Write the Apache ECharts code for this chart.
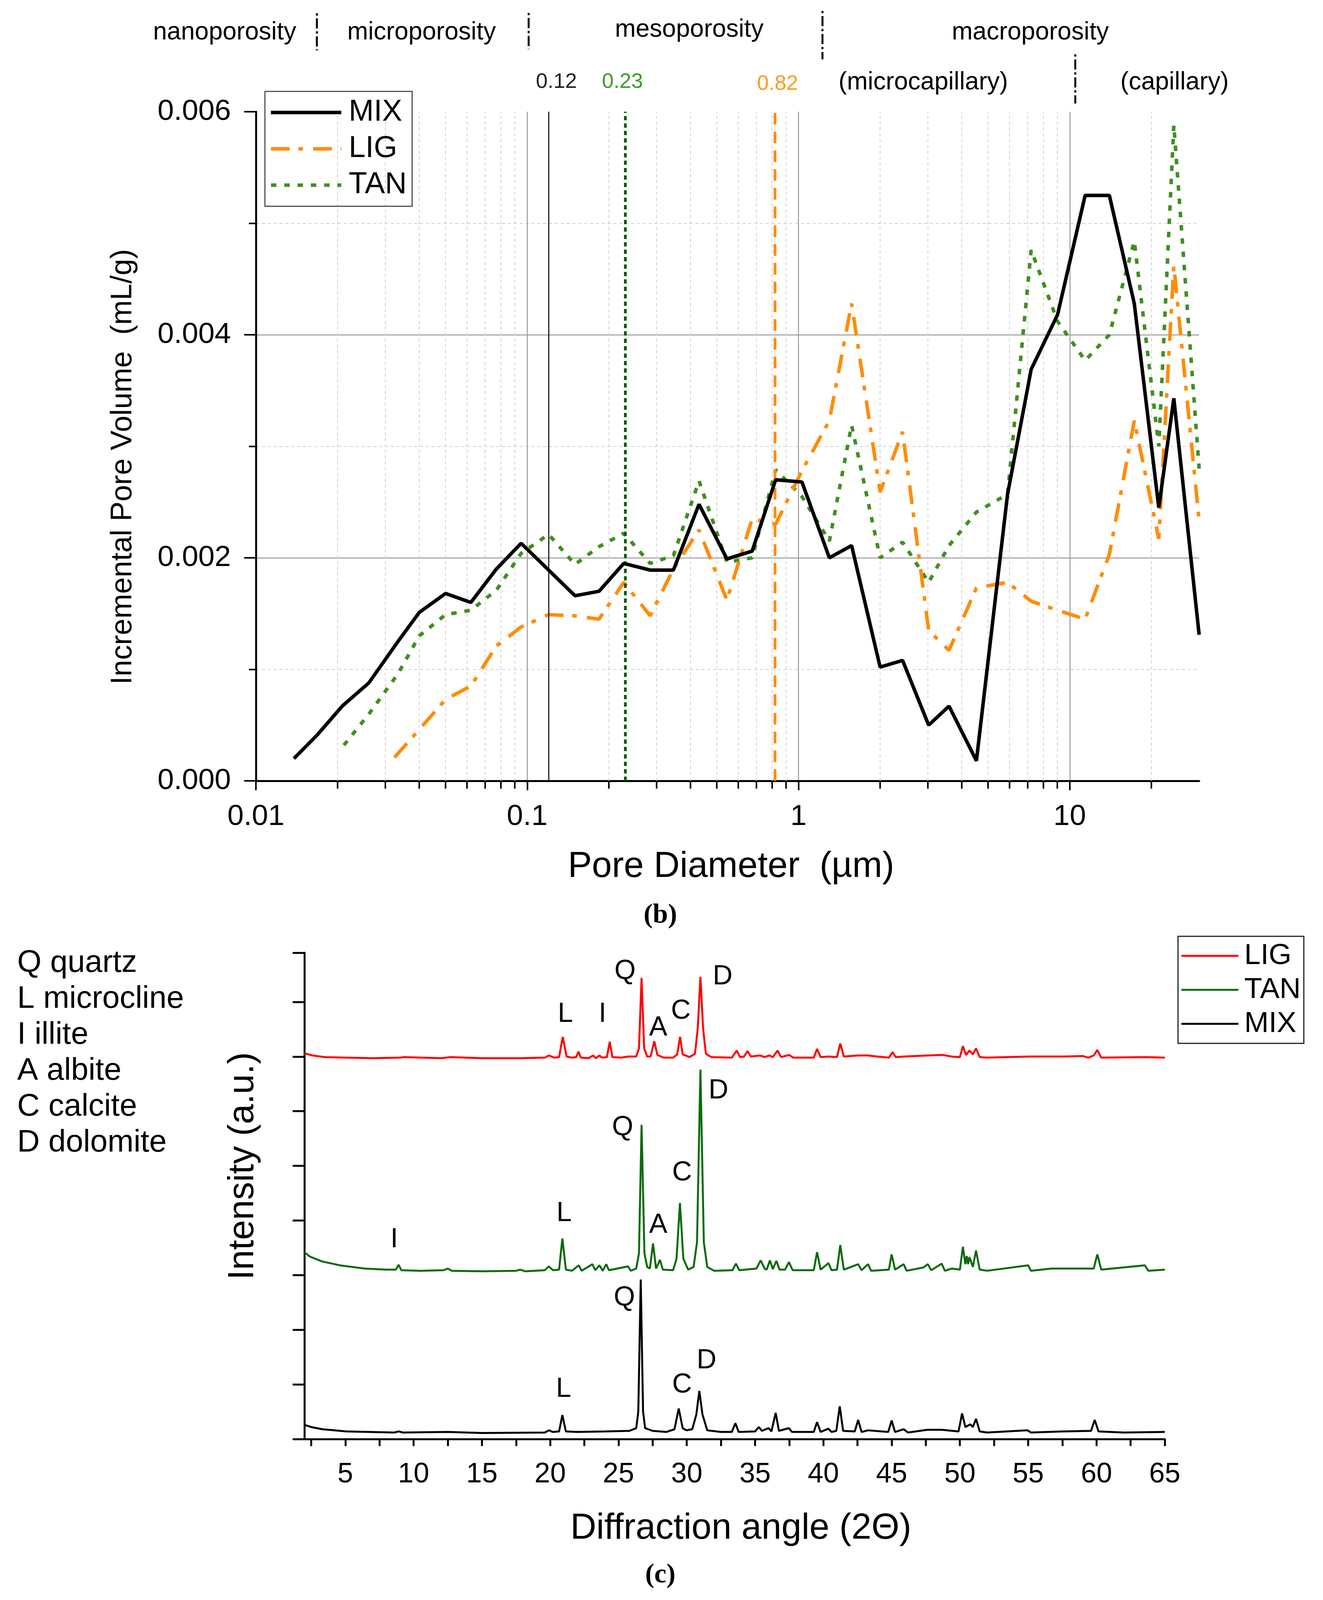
<!DOCTYPE html>
<html>
<head>
<meta charset="utf-8">
<script src="https://cdn.jsdelivr.net/npm/echarts@6/dist/echarts.min.js"></script>
<style>
html, body { margin: 0; padding: 0; background: #fff; overflow: hidden; }
#pore, #xrd { position: absolute; left: 0; width: 3386px; }
</style>
</head>
<body>
<div id="pore"></div>
<div id="xrd"></div>
<script>
const FONT = '"Liberation Sans", Arial, sans-serif';

// ---- (b) pore size distribution ----
const MIX_D = [0.0138, 0.0168, 0.0208, 0.0261, 0.0334, 0.040, 0.050, 0.062, 0.077, 0.095, 0.120, 0.150, 0.184, 0.227, 0.284, 0.346, 0.430, 0.545, 0.675, 0.824, 1.03, 1.30, 1.57, 2.00, 2.42, 3.02, 3.59, 4.53, 5.9, 7.21, 9.02, 11.4, 14.0, 17.3, 21.3, 24.2, 30];
const MIX_V = [0.00020, 0.00041, 0.00067, 0.00088, 0.00125, 0.00151, 0.00168, 0.00160, 0.00190, 0.00213, 0.00189, 0.00166, 0.00170, 0.00195, 0.00189, 0.00189, 0.00248, 0.00199, 0.00206, 0.00270, 0.00268, 0.00200, 0.00211, 0.00102, 0.00108, 0.00050, 0.00067, 0.00018, 0.00257, 0.00369, 0.00418, 0.00525, 0.00525, 0.00428, 0.00245, 0.00343, 0.00131];
const LIG_D = [0.0324, 0.040, 0.050, 0.062, 0.077, 0.095, 0.120, 0.150, 0.184, 0.227, 0.284, 0.346, 0.430, 0.545, 0.675, 0.824, 1.03, 1.30, 1.57, 2.00, 2.42, 3.02, 3.59, 4.53, 5.9, 7.21, 9.02, 11.4, 14.0, 17.3, 21.3, 24.2, 30];
const LIG_V = [0.00021, 0.00046, 0.00073, 0.00085, 0.00121, 0.00138, 0.00149, 0.00148, 0.00145, 0.00178, 0.00148, 0.00190, 0.00225, 0.00162, 0.00235, 0.00230, 0.00278, 0.00323, 0.00428, 0.00259, 0.00313, 0.00135, 0.00117, 0.00173, 0.00178, 0.00161, 0.00153, 0.00145, 0.00203, 0.00323, 0.00217, 0.00462, 0.00233];
const TAN_D = [0.0211, 0.0261, 0.0334, 0.040, 0.050, 0.062, 0.077, 0.095, 0.120, 0.150, 0.184, 0.227, 0.284, 0.346, 0.430, 0.545, 0.675, 0.824, 1.03, 1.30, 1.57, 2.00, 2.42, 3.02, 3.59, 4.53, 5.9, 7.21, 9.02, 11.4, 14.0, 17.3, 21.3, 24.2, 30];
const TAN_V = [0.00032, 0.00060, 0.00096, 0.00130, 0.00149, 0.00153, 0.00171, 0.00204, 0.00221, 0.00194, 0.00210, 0.00222, 0.00195, 0.00202, 0.00269, 0.00196, 0.00200, 0.00279, 0.00255, 0.00215, 0.00319, 0.00200, 0.00214, 0.00178, 0.00211, 0.00241, 0.00257, 0.00476, 0.00412, 0.00377, 0.00400, 0.00484, 0.00300, 0.00588, 0.00280];
const MINOR_X = [0.02, 0.03, 0.04, 0.05, 0.06, 0.07, 0.08, 0.09, 0.2, 0.3, 0.4, 0.5, 0.6, 0.7, 0.8, 0.9, 2, 3, 4, 5, 6, 7, 8, 9, 20];
const MEDIANS = { MIX: 0.12, TAN: 0.23, LIG: 0.82 };

// ---- (c) XRD patterns, [2theta, intensity a.u.] ----
const LIG_XRD = [[2.0,7.06],[2.6,7.02],[3.5,6.99],[5,6.98],[7,6.97],[9,6.98],[9.3,6.99],[12,6.97],[12.7,6.99],[15,6.97],[17.8,6.97],[19.6,6.98],[19.9,7.02],[20.3,6.98],[20.65,6.99],[20.92,7.36],[21.2,7.0],[21.6,6.98],[21.9,6.99],[22.07,7.09],[22.25,6.98],[22.8,6.97],[23.15,7.02],[23.35,6.97],[23.6,7.02],[23.8,6.98],[24.15,6.99],[24.36,7.27],[24.55,6.99],[25.2,6.98],[25.7,7.0],[26.3,7.0],[26.5,7.15],[26.69,8.44],[26.88,7.15],[27.1,7.0],[27.35,7.0],[27.62,7.28],[27.85,7.03],[28.3,6.98],[29.0,6.98],[29.3,7.04],[29.51,7.36],[29.7,7.04],[30.2,6.99],[30.6,7.05],[30.8,7.5],[31.0,8.46],[31.2,7.5],[31.4,7.05],[31.8,6.99],[33.3,6.98],[33.66,7.11],[33.9,6.99],[34.2,7.0],[34.45,7.10],[34.7,7.0],[35.35,7.02],[35.7,6.99],[36.05,7.02],[36.3,6.99],[36.65,7.11],[36.9,6.99],[37.5,7.03],[37.8,6.98],[39.3,6.98],[39.54,7.14],[39.8,6.99],[40.37,7.0],[41.0,6.99],[41.24,7.24],[41.5,7.0],[42.55,7.02],[43.27,7.02],[43.94,7.0],[44.8,6.98],[45.07,7.08],[45.3,6.99],[45.88,7.0],[47.65,7.02],[48.73,7.03],[49.39,7.0],[50.0,6.99],[50.22,7.19],[50.45,7.03],[50.7,7.11],[50.95,7.04],[51.18,7.15],[51.45,6.99],[52,6.98],[55.04,7.0],[57.55,7.0],[59.0,7.01],[59.4,6.98],[59.8,7.02],[60.06,7.12],[60.35,6.98],[63.6,6.99],[65,6.98]];
const TAN_XRD = [[2.0,3.42],[2.4,3.34],[3.3,3.25],[4.6,3.18],[6.4,3.12],[8.0,3.1],[8.7,3.1],[8.9,3.19],[9.1,3.09],[10.5,3.08],[12.2,3.09],[12.5,3.12],[12.8,3.08],[15,3.07],[17.5,3.08],[17.8,3.1],[18.2,3.07],[19.6,3.09],[19.9,3.16],[20.2,3.09],[20.65,3.1],[20.89,3.67],[21.15,3.1],[21.6,3.08],[22.09,3.18],[22.3,3.08],[23.09,3.2],[23.3,3.09],[23.6,3.18],[23.85,3.08],[24.1,3.2],[24.3,3.09],[25.7,3.16],[25.9,3.08],[26.3,3.12],[26.5,3.4],[26.69,5.75],[26.9,3.4],[27.1,3.15],[27.3,3.12],[27.53,3.58],[27.75,3.12],[28.04,3.28],[28.25,3.1],[29.0,3.09],[29.25,3.3],[29.5,4.32],[29.75,3.3],[30.1,3.1],[30.5,3.15],[30.75,3.6],[31.0,6.76],[31.25,3.6],[31.5,3.15],[32.0,3.08],[33.35,3.09],[33.6,3.21],[33.85,3.09],[35.1,3.12],[35.41,3.27],[35.7,3.12],[35.85,3.1],[36.09,3.27],[36.3,3.11],[36.56,3.26],[36.8,3.1],[37.2,3.1],[37.48,3.24],[37.75,3.09],[39.3,3.09],[39.54,3.42],[39.8,3.1],[40.37,3.22],[40.6,3.09],[41.0,3.1],[41.24,3.55],[41.5,3.1],[42.55,3.2],[42.8,3.09],[43.27,3.2],[43.5,3.08],[44.8,3.1],[45.0,3.38],[45.25,3.1],[45.88,3.2],[46.1,3.08],[47.33,3.14],[47.65,3.2],[47.9,3.09],[48.67,3.21],[48.9,3.08],[49.39,3.12],[50.0,3.1],[50.22,3.52],[50.4,3.2],[50.5,3.35],[50.6,3.2],[50.7,3.33],[50.95,3.15],[51.18,3.45],[51.45,3.1],[52.0,3.08],[55.0,3.18],[55.2,3.08],[56.69,3.12],[57.55,3.12],[58.96,3.12],[59.8,3.12],[60.06,3.38],[60.35,3.1],[63.54,3.18],[63.8,3.08],[65,3.1]];
const MIX_XRD = [[2.0,0.26],[2.5,0.22],[3.3,0.18],[5.1,0.14],[8.6,0.12],[8.9,0.14],[9.2,0.12],[12.5,0.13],[15,0.11],[19.6,0.12],[19.9,0.16],[20.2,0.13],[20.65,0.14],[20.89,0.44],[21.15,0.14],[22,0.13],[24,0.14],[25.8,0.15],[26.3,0.2],[26.45,0.5],[26.63,2.92],[26.8,0.5],[26.95,0.2],[27.5,0.15],[28.5,0.13],[29.1,0.18],[29.41,0.56],[29.7,0.2],[29.98,0.16],[30.4,0.18],[30.7,0.45],[30.92,0.88],[31.15,0.45],[31.5,0.16],[32.5,0.13],[33.3,0.13],[33.56,0.29],[33.8,0.13],[35.0,0.14],[35.28,0.22],[35.5,0.15],[35.99,0.2],[36.2,0.14],[36.51,0.48],[36.75,0.15],[37.48,0.2],[37.7,0.13],[39.3,0.13],[39.54,0.31],[39.8,0.13],[40.37,0.19],[40.6,0.13],[40.95,0.15],[41.2,0.6],[41.45,0.15],[42.3,0.14],[42.55,0.35],[42.8,0.13],[43.27,0.16],[44.75,0.13],[45.0,0.34],[45.25,0.13],[45.88,0.18],[46.2,0.12],[47.61,0.17],[48.67,0.17],[49.9,0.14],[50.16,0.47],[50.4,0.22],[50.76,0.27],[50.95,0.22],[51.18,0.37],[51.45,0.14],[52,0.12],[54.95,0.16],[55.2,0.12],[57.5,0.14],[59.6,0.15],[59.87,0.35],[60.15,0.14],[62,0.12],[65,0.13]];
const LIG_PEAKS = [['L', 21.11, 7.77], ['I', 23.83, 7.77], ['Q', 25.48, 8.56], ['A', 27.91, 7.52], ['C', 29.57, 7.83], ['D', 32.63, 8.46]];
const TAN_PEAKS = [['D', 32.32, 6.37], ['Q', 25.30, 5.70], ['C', 29.65, 4.87], ['L', 21.02, 4.13], ['A', 27.91, 3.91], ['I', 8.58, 3.65]];
const MIX_PEAKS = [['Q', 25.43, 2.58], ['D', 31.45, 1.43], ['C', 29.65, 0.99], ['L', 20.98, 0.91]];
const ANGLE_LABELS = [5, 10, 15, 20, 25, 30, 35, 40, 45, 50, 55, 60, 65];
const ANGLE_TICKS = [2.5, 5, 7.5, 10, 12.5, 15, 17.5, 20, 22.5, 25, 27.5, 30, 32.5, 35, 37.5, 40, 42.5, 45, 47.5, 50, 52.5, 55, 57.5, 60, 62.5, 65];
const MINERALS = ['Q quartz', 'L microcline', 'I illite', 'A albite', 'C calcite', 'D dolomite'];

// the figure is laid out on a 3386 x 4319 page; squeeze it vertically if the viewport is shorter
const PAGE_H = 4319;
const K = Math.min(1, (window.innerHeight || PAGE_H) / PAGE_H);
const Y = v => Math.round(v * K);
const SPLIT = 2520;

const zip = (xs, ys) => xs.map((x, i) => [x, ys[i]]);

function txt(text, x, y, size, extra) {
  return Object.assign({
    type: 'text', x: x, y: Y(y),
    style: Object.assign({ text: text, fontSize: size, fontFamily: FONT, fill: '#000', align: 'center', verticalAlign: 'middle' },
      (extra && extra.style) || {})
  }, extra && extra.rotation ? { rotation: extra.rotation } : {});
}
function sep(x, y1, y2) {
  return { type: 'line', shape: { x1: x, y1: Y(y1), x2: x, y2: Y(y2) },
    style: { stroke: '#000', lineWidth: 5, lineDash: [6, 7, 26, 7] } };
}
function vline(x, color, type, width) {
  return { silent: true, symbol: ['none', 'none'], animation: false,
    label: { show: false },
    lineStyle: { color: color, type: type, width: width },
    data: [{ xAxis: x }] };
}

const poreDiv = document.getElementById('pore');
poreDiv.style.top = '0px';
poreDiv.style.height = Y(SPLIT) + 'px';
const xrdDiv = document.getElementById('xrd');
xrdDiv.style.top = Y(SPLIT) + 'px';
xrdDiv.style.height = (Math.floor(PAGE_H * K) - Y(SPLIT)) + 'px';

const pore = echarts.init(poreDiv);
pore.setOption({
  animation: false,
  backgroundColor: '#fff',
  grid: { left: 655, right: 317, top: Y(302), bottom: Y(SPLIT) - Y(2108) },
  legend: {
    left: 678, top: Y(247), orient: 'vertical',
    data: ['MIX', 'LIG', 'TAN'],
    padding: [Y(15), 14, Y(15), 11],
    itemWidth: 180, itemHeight: 20, itemGap: Math.round(98 * K - 80),
    borderColor: '#333', borderWidth: 2.5,
    itemStyle: { opacity: 0 },
    lineStyle: { width: 9 },
    textStyle: { fontSize: 77, fontFamily: FONT, color: '#000', lineHeight: 80, padding: [0, 0, 0, 14] }
  },
  xAxis: {
    type: 'log', logBase: 10, min: 0.01, max: 30,
    axisLine: { lineStyle: { color: '#000', width: 5 } },
    axisTick: { inside: false, length: 24, lineStyle: { width: 4, color: '#000' } },
    axisLabel: { fontSize: 75, fontFamily: FONT, color: '#000', margin: Y(58), showMaxLabel: false },
    splitLine: { show: true, showMinLine: false, showMaxLine: false, lineStyle: { color: '#9a9a9a', width: 2.5 } }
  },
  yAxis: {
    type: 'value', min: 0, max: 0.006, interval: 0.002,
    axisLine: { show: true, lineStyle: { color: '#000', width: 5 } },
    axisTick: { show: true, inside: false, length: 30, lineStyle: { width: 4, color: '#000' } },
    minorTick: { show: true, splitNumber: 2, length: 18, lineStyle: { width: 4, color: '#000' } },
    axisLabel: { fontSize: 75, fontFamily: FONT, color: '#000', margin: 64,
      formatter: v => v.toFixed(3) },
    splitLine: { show: true, showMaxLine: false, lineStyle: { color: '#9a9a9a', width: 2.5 } },
    minorSplitLine: { show: true, lineStyle: { color: '#cfcfcf', width: 2, type: [8, 7] } }
  },
  series: [
    {
      type: 'custom', z: 1, silent: true, clip: false,
      data: MINOR_X.map(v => [v, 0]),
      encode: { x: 0, y: 1 },
      renderItem: (params, api) => {
        const v = api.value(0);
        const b = api.coord([v, 0]);
        const t = api.coord([v, 0.006]);
        return { type: 'group', children: [
          { type: 'line', shape: { x1: b[0], y1: b[1], x2: t[0], y2: t[1] },
            style: { stroke: '#cfcfcf', lineWidth: 2, lineDash: [8, 7] } },
          { type: 'line', shape: { x1: b[0], y1: b[1], x2: b[0], y2: b[1] + 20 },
            style: { stroke: '#000', lineWidth: 4 } }
        ] };
      }
    },
    {
      name: 'MIX', type: 'line', z: 5, symbol: 'none', data: zip(MIX_D, MIX_V),
      lineStyle: { color: '#000', width: 9 }, itemStyle: { color: '#000' },
      markLine: vline(MEDIANS.MIX, '#222', 'solid', 3)
    },
    {
      name: 'LIG', type: 'line', z: 4, symbol: 'none', data: zip(LIG_D, LIG_V),
      lineStyle: { color: '#ff8c0a', width: 9, type: [48, 22, 12, 26] }, itemStyle: { color: '#ff8c0a' },
      markLine: vline(MEDIANS.LIG, '#ff8c0a', [30, 18], 7)
    },
    {
      name: 'TAN', type: 'line', z: 3, symbol: 'none', data: zip(TAN_D, TAN_V),
      lineStyle: { color: '#3f8f22', width: 9, type: [14, 20] }, itemStyle: { color: '#3f8f22' },
      markLine: vline(MEDIANS.TAN, '#0a5c0a', [11, 8], 7)
    }
  ],
  graphic: [
    txt('nanoporosity', 575, 88, 64),
    txt('microporosity', 1079, 88, 64),
    txt('mesoporosity', 1764, 80, 64),
    txt('macroporosity', 2637, 88, 64),
    txt('(microcapillary)', 2363, 223, 64),
    txt('(capillary)', 3006, 223, 64),
    sep(811, 36, 136), sep(1353, 35, 133), sep(2105, 29, 160), sep(2752, 147, 279),
    txt('0.12', 1424, 221, 54, { style: { fill: '#222' } }),
    txt('0.23', 1593, 221, 54, { style: { fill: '#3f9a2a' } }),
    txt('0.82', 1990, 227, 54, { style: { fill: '#ff9a20' } }),
    txt('Pore Diameter  (µm)', 1871, 2341, 92),
    txt('Incremental Pore Volume  (mL/g)', 315, 1260, 76, { rotation: Math.PI / 2 }),
    txt('(b)', 1690, 2472, 70, { style: { fontWeight: 'bold', fontFamily: '"Liberation Serif", serif' } })
  ]
});

function peakMarks(list) {
  return {
    silent: true, animation: false,
    symbol: 'circle', symbolSize: 1, itemStyle: { color: 'rgba(0,0,0,0)' },
    label: { show: true, position: 'inside', formatter: '{b}', color: '#000', fontSize: 70, fontFamily: FONT },
    data: list.map(p => ({ name: p[0], coord: [p[1], p[2]] }))
  };
}

// y positions inside the lower chart are given relative to the split line
const YL = v => Y(SPLIT + v) - Y(SPLIT);
const xrd = echarts.init(xrdDiv);
xrd.setOption({
  animation: false,
  backgroundColor: '#fff',
  grid: { left: 779, right: 405, top: YL(52), bottom: (Math.floor(PAGE_H * K) - Y(SPLIT)) - YL(1365) },
  legend: {
    left: 3015, top: YL(7), orient: 'vertical',
    data: ['LIG', 'TAN', 'MIX'],
    padding: [YL(12), 8, YL(12), 6],
    itemWidth: 146, itemHeight: 14, itemGap: Math.round(92 * K - 78),
    borderColor: '#222', borderWidth: 3,
    itemStyle: { opacity: 0 },
    lineStyle: { width: 5 },
    textStyle: { fontSize: 75, fontFamily: FONT, color: '#000', lineHeight: 78, padding: [0, 0, 0, 10] }
  },
  xAxis: {
    type: 'value', min: 2, max: 65,
    axisLine: { lineStyle: { color: '#000', width: 5 } },
    axisTick: { show: true, inside: false, length: 18, customValues: ANGLE_TICKS, lineStyle: { width: 5, color: '#000' } },
    axisLabel: { fontSize: 72, fontFamily: FONT, color: '#000', margin: YL(58), customValues: ANGLE_LABELS },
    splitLine: { show: false }
  },
  yAxis: {
    type: 'value', min: 0, max: 8.9, interval: 1,
    axisLine: { show: true, lineStyle: { color: '#000', width: 5 } },
    axisTick: { show: true, inside: false, length: 30, lineStyle: { width: 5, color: '#000' } },
    axisLabel: { show: false },
    splitLine: { show: false }
  },
  series: [
    { name: 'LIG', type: 'line', symbol: 'none', data: LIG_XRD,
      lineStyle: { color: '#ff0000', width: 5 }, itemStyle: { color: '#ff0000' },
      markPoint: peakMarks(LIG_PEAKS) },
    { name: 'TAN', type: 'line', symbol: 'none', data: TAN_XRD,
      lineStyle: { color: '#0b6b0b', width: 5 }, itemStyle: { color: '#0b6b0b' },
      markPoint: peakMarks(TAN_PEAKS) },
    { name: 'MIX', type: 'line', symbol: 'none', data: MIX_XRD,
      lineStyle: { color: '#000', width: 5 }, itemStyle: { color: '#000' },
      markPoint: peakMarks(MIX_PEAKS) }
  ],
  graphic: MINERALS.map((m, i) => Object.assign(txt(m, 44, 0, 80, { style: { align: 'left' } }), { y: YL(80 + i * 97) }))
    .concat([
      Object.assign(txt('Intensity (a.u.)', 623, 0, 92, { rotation: Math.PI / 2 }), { y: YL(627) }),
      Object.assign(txt('Diffraction angle (2Θ)', 1896, 0, 92), { y: YL(1607) }),
      Object.assign(txt('(c)', 1690, 0, 70, { style: { fontWeight: 'bold', fontFamily: '"Liberation Serif", serif' } }), { y: YL(1733) })
    ])
});
</script>
</body>
</html>
